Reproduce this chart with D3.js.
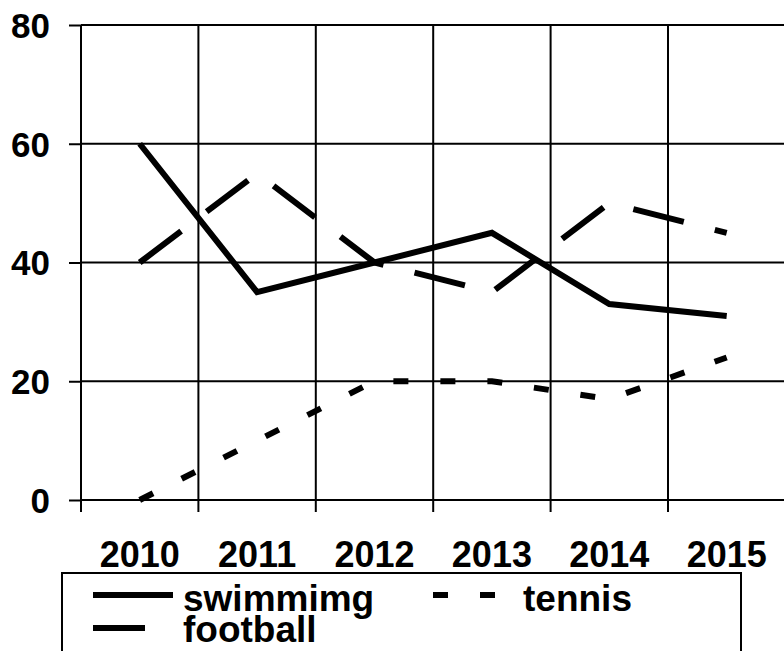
<!DOCTYPE html>
<html>
<head>
<meta charset="utf-8">
<script src="https://cdn.jsdelivr.net/npm/d3@7/dist/d3.min.js"></script>
<style>
  html, body { margin: 0; padding: 0; background: #fff; }
  svg { display: block; }
  text { font-family: "Liberation Sans", Arial, sans-serif; font-weight: bold; fill: #000; }
</style>
</head>
<body>
<svg id="chart" width="784" height="651"></svg>
<script>
const years = ["2010", "2011", "2012", "2013", "2014", "2015"];
const swimming = [60, 35, 40, 45, 33, 31];
const tennis = [0, 10, 20, 20, 17, 24];
const football = [40, 55, 40, 35, 50, 45];
const yTicks = [0, 20, 40, 60, 80];
const seriesNames = ["swimmimg", "tennis", "football"];

(function () {
const svg = d3.select("#chart");
const plotLeft = 81, band = 117.4, plotTop = 25, plotBottom = 500;

const x = d3.scaleBand().domain(years).range([plotLeft, plotLeft + band * years.length]).paddingInner(0).paddingOuter(0);
const y = d3.scaleLinear().domain([0, 80]).range([plotBottom, plotTop]);

// y ticks + labels
const yAxis = d3.axisLeft(y).tickValues(yTicks).tickSize(12).tickPadding(19);
const gy = svg.append("g").attr("transform", `translate(${plotLeft},0)`).call(yAxis);
gy.select(".domain").remove();
gy.attr("font-family", null);
gy.selectAll(".tick line").attr("stroke", "#000").attr("stroke-width", 2);
gy.selectAll(".tick text").style("font-size", "35px").attr("dy", "0.35em");

// horizontal gridlines
svg.append("g").selectAll("line").data(yTicks).join("line")
  .attr("x1", plotLeft).attr("x2", 784)
  .attr("y1", d => y(d)).attr("y2", d => y(d))
  .attr("stroke", "#000").attr("stroke-width", 2);

// vertical gridlines at band boundaries (incl. left axis), extending below as ticks
const bounds = years.map(d => x(d));
svg.append("g").selectAll("line").data(bounds).join("line")
  .attr("x1", d => d).attr("x2", d => d)
  .attr("y1", plotTop).attr("y2", plotBottom + 12)
  .attr("stroke", "#000").attr("stroke-width", 2);

// x labels
const xAxis = d3.axisBottom(x).tickSize(0).tickPadding(0);
const gx = svg.append("g").attr("transform", `translate(0,${plotBottom})`).call(xAxis);
gx.select(".domain").remove();
gx.attr("font-family", null);
gx.selectAll(".tick text").style("font-size", "36px").attr("y", 67).attr("dy", 0);

// series lines
const line = d3.line().x((d, i) => x(years[i]) + x.bandwidth() / 2).y(d => y(d));
const styles = {
  swimmimg: { dash: null },
  tennis: { dash: "15,32" },
  football: { dash: "52,32" }
};
const data = { swimmimg: swimming, tennis: tennis, football: football };

seriesNames.forEach(name => {
  svg.append("path")
    .datum(data[name])
    .attr("d", line)
    .attr("fill", "none")
    .attr("stroke", "#000")
    .attr("stroke-width", 6)
    .attr("stroke-linejoin", "miter")
    .attr("stroke-dasharray", styles[name].dash);
});

// legend
const lg = svg.append("g");
lg.append("rect").attr("x", 62).attr("y", 573).attr("width", 679).attr("height", 100)
  .attr("fill", "#fff").attr("stroke", "#000").attr("stroke-width", 2);

const legendPos = [
  { name: "swimmimg", x: 93, y: 595, ty: 611 },
  { name: "tennis", x: 433, y: 595, ty: 611 },
  { name: "football", x: 93, y: 628, ty: 642 }
];
legendPos.forEach(p => {
  lg.append("line").attr("x1", p.x).attr("x2", p.x + 80).attr("y1", p.y).attr("y2", p.y)
    .attr("stroke", "#000").attr("stroke-width", 6)
    .attr("stroke-dasharray", styles[p.name].dash);
  lg.append("text").attr("x", p.x + 90).attr("y", p.ty).style("font-size", "37px").text(p.name);
});
})();
</script>
</body>
</html>
